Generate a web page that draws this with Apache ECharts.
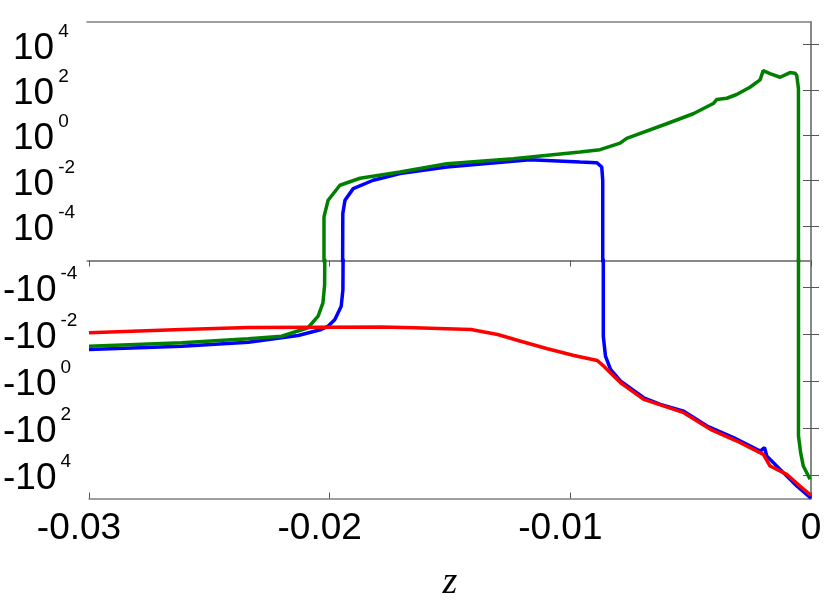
<!DOCTYPE html>
<html><head><meta charset="utf-8">
<script src="https://cdn.jsdelivr.net/npm/echarts@6/dist/echarts.min.js"></script>
<style>html,body{margin:0;padding:0;background:#fff}#c{width:830px;height:608px}</style>
</head><body><div id="c"></div>
<script>
// ---- data (z, value); 0 marks a sign change ----
const zGreen = [-0.03, -0.02615, -0.02338, -0.0220, -0.0209, -0.02048, -0.02028, -0.02021, -0.02018, -0.02018,
  -0.02001, -0.01952, -0.01869, -0.01703, -0.01509, -0.01234, -0.00957, -0.00874, -0.00791, -0.00764,
  -0.00598, -0.00488, -0.00405, -0.00391, -0.00349, -0.00308, -0.00253, -0.00211, -0.00198, -0.00170,
  -0.00128, -0.00087, -0.00066, -0.00059, -0.00052, -0.00052, -0.00052, -0.00043, -0.00032, -0.00004];
const vGreen = [-0.0324, -0.0232, -0.0157, -0.0122, -0.0053, -0.0017, -4.6e-4, -8e-5, 0, 2.5e-4,
  1.35e-3, 6.2e-3, 0.0126, 0.0238, 0.0558, 0.0927, 0.181, 0.231, 0.451, 0.726,
  3.22, 8.9, 25.2, 37.8, 43, 63, 132, 279, 716, 528,
  363, 585, 545, 431, 116, 0, -219, -1110, -4140, -15200];

const zBlue = [-0.03, -0.02615, -0.02338, -0.02131, -0.02035, -0.02007, -0.01979, -0.01952, -0.01945, -0.01942,
  -0.01940, -0.01931, -0.01897, -0.01814, -0.01703, -0.01509, -0.01164, -0.00957, -0.00888, -0.00867,
  -0.00863, -0.00863, -0.00863, -0.00854, -0.00833, -0.00791, -0.00695, -0.00626, -0.00529, -0.00432,
  -0.00322, -0.00211, -0.00193, -0.00184, -0.00115, -0.00059, 0];
const vBlue = [-0.0448, -0.0324, -0.0219, -0.0114, -0.0063, -0.0046, -0.0024, -6.4e-4, -1.3e-4, 0,
  3.5e-4, 1.35e-3, 4.4e-3, 0.0103, 0.0203, 0.0395, 0.0838, 0.0656, 0.0618, 0.0395,
  0.0103, 0, -0.0122, -0.0863, -0.318, -1.0, -5.1, -9.8, -18.9, -82,
  -256, -953, -683, -1550, -7900, -29400, -98000];

const zRed = [-0.03, -0.02615, -0.02338, -0.01786, -0.01648, -0.01413, -0.01302, -0.01206, -0.01095, -0.00985,
  -0.00888, -0.00861, -0.00819, -0.00791, -0.00695, -0.00529, -0.00418, -0.00308, -0.00198, -0.00170,
  -0.00101, -0.00046, 0];
const vRed = [-0.0087, -0.0063, -0.0052, -0.0049, -0.0053, -0.0063, -0.0103, -0.0199, -0.0418, -0.0805,
  -0.132, -0.230, -0.612, -1.17, -6.0, -22.1, -113, -357, -1315, -4140,
  -9330, -29400, -73100];

// ---- axes ----
const xTickValues = [-0.03, -0.02, -0.01, 0];
const xTickLabels = ['-0.03', '-0.02', '-0.01', '0'];
const yTickExponents = [-4, -2, 0, 2, 4];
const xName = 'z';

const yTicks = yTickExponents.map(e => Math.pow(10, e));
const TINY = 1e-9;
function upperData(z, v) { return z.map((x, i) => [x, v[i] > 0 ? v[i] : (v[i] === 0 ? TINY : null)]); }
function lowerData(z, v) { return z.map((x, i) => [x, v[i] < 0 ? -v[i] : (v[i] === 0 ? TINY : null)]); }

const FONT = 'Liberation Sans';
const gray = '#808080';
const rich = {
  b: { fontSize: 37, fontFamily: FONT, color: '#000', padding: [8, 4, 0, 0], verticalAlign: 'bottom' },
  s: { fontSize: 19, lineHeight: 8, fontFamily: FONT, color: '#000', verticalAlign: 'top' }
};
function expOf(v) { return Math.round(Math.log10(v)); }

function yAxisCfg(grid, pos, inverse, minExp, labels, neg) {
  return {
    gridIndex: grid, type: 'log', position: pos, inverse: inverse,
    min: Math.pow(10, minExp), max: 1e5,
    axisLine: { show: true, lineStyle: { color: gray, width: 1.5 } },
    axisTick: { show: true, inside: true, length: 8, customValues: yTicks, lineStyle: { color: '#555', width: 1 } },
    axisLabel: {
      show: labels, customValues: yTicks, align: 'left', margin: neg ? 86 : 74, rich: rich,
      formatter: v => '{b|' + (neg ? '-10' : '10') + '}{s|' + expOf(v) + '}'
    },
    splitLine: { show: false }, minorTick: { show: false }
  };
}

function xAxisCfg(grid, pos, ticks, labels) {
  return {
    gridIndex: grid, type: 'value', position: pos, min: -0.03, max: 0, interval: 0.01,
    axisLine: { show: true, onZero: false, lineStyle: { color: gray, width: 1.5 } },
    axisTick: { show: ticks, inside: true, length: 6, lineStyle: { color: '#555', width: 1 } },
    axisLabel: {
      show: labels, margin: 12,
      formatter: v => {
        const i = xTickValues.findIndex(t => Math.abs(t - v) < 1e-9);
        const s = i >= 0 ? xTickLabels[i] : '';
        return s.charAt(0) === '-' ? '{n|' + s + '}' : '{p|' + s + '}';
      },
      rich: {
        n: { fontSize: 37, fontFamily: FONT, color: '#000', padding: [0, 20, 0, 0] },
        p: { fontSize: 37, fontFamily: FONT, color: '#000' }
      }
    },
    splitLine: { show: false }
  };
}

const chart = echarts.init(document.getElementById('c'), null, { renderer: 'canvas' });
const xBottom = xAxisCfg(1, 'bottom', true, true);
xBottom.name = xName;
xBottom.nameLocation = 'middle';
xBottom.nameGap = 66;
xBottom.nameTextStyle = { fontFamily: 'Liberation Serif', fontStyle: 'italic', fontSize: 38, color: '#000' };

function line(xi, yi, data, color, zz) {
  return { type: 'line', xAxisIndex: xi, yAxisIndex: yi, data: data, showSymbol: false, symbol: 'none',
    lineStyle: { color: color, width: 3.5 }, itemStyle: { color: color }, z: zz, clip: true, connectNulls: false };
}

chart.setOption({
  animation: false,
  backgroundColor: '#fff',
  grid: [
    { left: 87, top: 22, width: 724, height: 238.5 },
    { left: 87, top: 260.5, width: 724, height: 238 }
  ],
  xAxis: [
    xAxisCfg(0, 'bottom', false, false),
    xAxisCfg(0, 'top', false, false),
    xBottom,
    xAxisCfg(1, 'top', true, false)
  ],
  yAxis: [
    yAxisCfg(0, 'left', false, -5.53, true, false),
    yAxisCfg(1, 'left', true, -5.14, true, true),
    yAxisCfg(0, 'right', false, -5.53, false, false),
    yAxisCfg(1, 'right', true, -5.14, false, true)
  ],
  series: [
    line(0, 0, upperData(zBlue, vBlue), '#0000ff', 2),
    line(2, 1, lowerData(zBlue, vBlue), '#0000ff', 2),
    line(0, 0, upperData(zGreen, vGreen), '#008000', 3),
    line(2, 1, lowerData(zGreen, vGreen), '#008000', 3),
    line(0, 0, upperData(zRed, vRed), '#ff0000', 4),
    line(2, 1, lowerData(zRed, vRed), '#ff0000', 4)
  ]
});
</script></body></html>
